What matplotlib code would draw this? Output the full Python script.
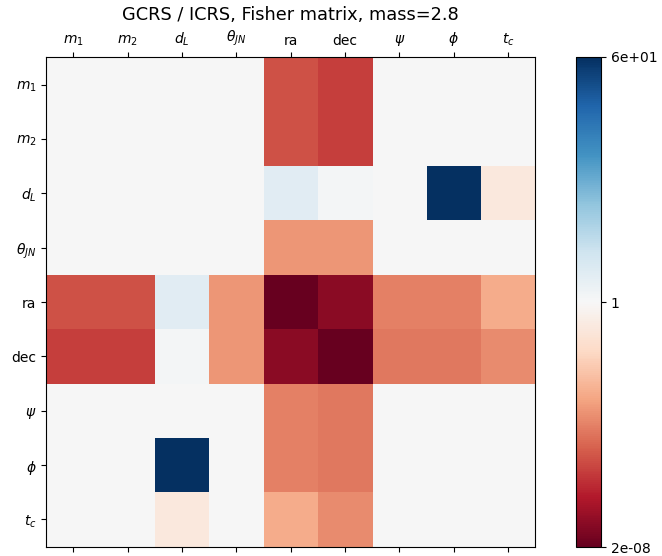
import numpy as np
import matplotlib
matplotlib.use("Agg")
import matplotlib.pyplot as plt
from matplotlib.colors import TwoSlopeNorm

# parameter order for rows and columns
params = [r"$m_1$", r"$m_2$", r"$d_L$", r"$\theta_{JN}$", "ra", "dec", r"$\psi$", r"$\phi$", r"$t_c$"]

# GCRS / ICRS ratio of Fisher matrix entries (1 = no change)
row_m1 = [1, 1, 1, 1, 1.2e-5, 4.5e-6, 1, 1, 1]
row_m2 = [1, 1, 1, 1, 1.2e-5, 4.5e-6, 1, 1, 1]
row_dL = [1, 1, 1, 1, 1.6, 1.09, 1, 60, 0.15]
row_th = [1, 1, 1, 1, 4.1e-4, 4.1e-4, 1, 1, 1]
row_ra = [1.2e-5, 1.2e-5, 1.6, 4.1e-4, 2e-8, 1.1e-7, 1.3e-4, 1.3e-4, 1.3e-3]
row_dec = [4.5e-6, 4.5e-6, 1.09, 4.1e-4, 1.1e-7, 2e-8, 9.2e-5, 9.2e-5, 2.2e-4]
row_psi = [1, 1, 1, 1, 1.3e-4, 9.2e-5, 1, 1, 1]
row_phi = [1, 1, 60, 1, 1.3e-4, 9.2e-5, 1, 1, 1]
row_tc = [1, 1, 0.15, 1, 1.3e-3, 2.2e-4, 1, 1, 1]

vmin, vmax = 2e-8, 60.0

ratio = np.array([row_m1, row_m2, row_dL, row_th, row_ra, row_dec, row_psi, row_phi, row_tc])
logr = np.log10(ratio)
# log colour scale with 1 in the middle of the colour bar
norm = TwoSlopeNorm(vmin=np.log10(vmin), vcenter=0.0, vmax=np.log10(vmax))

fig = plt.figure(figsize=(6.62, 5.56), dpi=100)
ax = fig.add_axes([0.0695, 0.016, 0.739, 0.8815])
cax = fig.add_axes([0.870, 0.016, 0.038, 0.8815])

im = ax.imshow(logr, cmap="RdBu", norm=norm)
ax.set_xticks(np.arange(len(params)))
ax.set_xticklabels(params)
ax.set_yticks(np.arange(len(params)))
ax.set_yticklabels(params)
ax.tick_params(top=True, labeltop=True, bottom=True, labelbottom=False)
ax.set_title("GCRS / ICRS, Fisher matrix, mass=2.8", fontsize=12.8)

cb = fig.colorbar(im, cax=cax)
cb.set_ticks([np.log10(vmin), 0.0, np.log10(vmax)])
cb.set_ticklabels([f"{vmin:.0e}", "1", f"{vmax:.0e}"])
cb.minorticks_off()

fig.savefig("out.png", dpi=100)
